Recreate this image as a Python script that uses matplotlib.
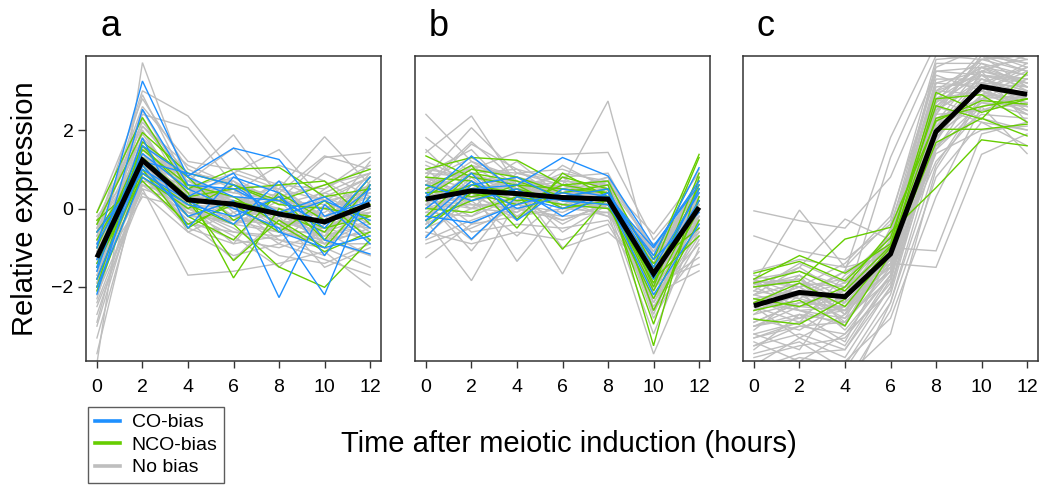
import matplotlib
matplotlib.use("Agg")
import matplotlib.pyplot as plt
from matplotlib.lines import Line2D

plt.rcParams['font.family'] = ['Liberation Sans', 'DejaVu Sans']

hours = [0, 2, 4, 6, 8, 10, 12]
panel_labels = ['a', 'b', 'c']
legend_labels = ['CO-bias', 'NCO-bias', 'No bias']
xlabel = 'Time after meiotic induction (hours)'
ylabel = 'Relative expression'

# ---------------- panel a ----------------
a_gray = [
    [-1.0, 1.4, 0.3, 0.2, -0.1, -0.4, 0.2],
    [-1.6, 1.0, 0.1, 0.0, -0.3, -0.5, 0.0],
    [-0.8, 1.7, 0.5, 0.3, 0.0, -0.2, 0.4],
    [-2.0, 0.8, -0.1, -0.2, -0.5, -0.7, -0.3],
    [-1.3, 1.2, 0.6, 0.4, 0.2, 0.0, 0.3],
    [-3.95, 3.72, 0.6, 0.2, -0.2, -0.5, -0.1],
    [-3.7, 1.1, 0.2, 0.0, -0.3, -0.6, -0.2],
    [-3.0, 0.9, 0.0, -0.4, -0.6, -0.9, -0.5],
    [-0.1, 2.8, 1.0, 0.5, 0.2, 0.1, 0.6],
    [-0.5, 3.0, 2.36, 0.9, 0.5, 0.2, 0.8],
    [-0.7, 2.4, 2.06, 0.6, 0.3, 0.0, 0.5],
    [-1.2, 1.3, 0.8, 1.88, 0.3, 0.6, 0.9],
    [-1.1, 1.5, 0.7, 1.54, 0.4, 1.34, 1.0],
    [-1.4, 1.1, 0.5, 0.9, 1.5, 0.2, 0.4],
    [-1.5, 0.9, 0.3, 0.6, 0.5, 1.83, 0.6],
    [-0.9, 1.6, 0.4, 0.3, 0.2, 1.3, 1.43],
    [-1.8, 0.6, -0.3, -0.8, -1.0, -0.6, -1.2],
    [-2.2, 0.5, -1.7, -1.6, -1.4, -1.1, -2.0],
    [-2.5, 0.4, -0.6, -1.2, -0.9, -1.3, -1.7],
    [-1.9, 1.0, -0.4, -0.6, -0.8, -1.0, -1.5],
    [-0.3, 2.2, 0.9, 0.7, 0.1, 0.4, 0.9],
    [-0.6, 2.6, 1.2, 1.0, 0.6, 0.5, 1.1],
    [-1.0, 2.0, 0.2, -0.3, -0.4, -0.2, -0.1],
    [-1.3, 1.8, -0.2, 0.1, -0.6, -0.8, -0.6],
    [-2.7, 0.7, -0.5, -0.9, -0.7, -0.5, -0.8],
    [-1.7, 0.3, 0.0, -0.5, -1.2, -1.4, -0.9],
    [-0.4, 1.9, 0.4, 0.8, 0.1, 0.9, 0.3],
    [-1.4, 1.3, 0.9, -0.1, 0.3, -0.3, 1.2],
    [-0.9, 2.9, 0.6, 0.0, 0.7, 0.2, -0.4],
    [-2.1, 1.6, 0.1, 0.5, -0.5, -0.9, 0.2],
    [-1.2, 0.8, -0.3, -1.3, -0.2, -1.5, -1.0],
    [-0.2, 1.2, 0.7, 0.4, 1.1, 0.7, 0.0],
    [-1.5, 2.3, 0.3, 0.1, -0.8, -1.2, 0.7],
    [-2.9, 1.4, 0.5, -0.4, -0.1, 0.3, -0.2],
    [-1.1, 0.6, 0.2, 0.3, -0.3, -0.7, 0.5],
    [-0.7, 1.0, -0.1, -0.7, -1.5, -0.4, 0.1],
    [-1.8, 2.1, 1.1, 0.6, 0.2, 0.0, -0.7],
    [-2.3, 1.5, 0.4, 0.0, 0.4, -0.2, 0.3],
    [-0.5, 1.4, -0.2, 0.2, -0.4, 0.5, 1.3],
    [-1.6, 0.9, 0.6, -0.2, 0.0, -0.8, -1.2],
    [-1.1, 1.1, 0.4, -0.2, -0.4, -0.3, -0.5],
    [-0.9, 0.9, 0.0, 0.1, 0.0, -0.6, 0.2],
    [-1.4, 1.4, 0.2, 0.5, -0.2, -0.1, 0.6],
    [-1.7, 1.2, -0.1, -0.4, 0.2, -0.9, -0.3],
    [-0.6, 1.8, 0.6, 0.2, -0.5, 0.0, 0.4],
    [-2.4, 0.6, 0.3, 0.0, 0.0, -0.4, 0.9],
    [-1.0, 1.6, 0.0, -0.6, -0.7, 0.4, 0.0],
    [-1.3, 0.7, 0.5, 0.7, -0.3, -0.7, -0.4],
    [-0.4, 2.1, 0.8, 0.1, 0.3, -0.5, 0.1],
    [-2.0, 1.3, -0.6, -0.1, -0.9, 0.1, -0.6],
    [-1.5, 0.5, 0.1, -0.9, 0.5, -0.2, 0.5],
    [-0.8, 2.5, 0.5, 0.3, -0.1, -0.9, -0.9],
    [-1.2, 1.0, 0.2, 0.0, -0.5, 0.3, 0.8],
    [-3.3, 0.8, -0.2, -0.3, -0.6, -0.8, -0.1],
    [-1.9, 1.7, 0.7, 0.1, 0.6, -0.3, -0.2],
]
a_green = [
    [-0.1, 2.32, 0.5, 1.0, 1.05, 0.3, 0.5],
    [-0.4, 1.94, 0.9, 0.6, 0.2, 0.6, 1.0],
    [-1.0, 1.6, 0.4, -1.77, 0.0, -0.5, -0.2],
    [-1.5, 1.2, 0.2, -1.33, -0.3, -1.0, 0.3],
    [-2.1, 0.9, 0.1, -0.4, -1.49, -2.01, -0.8],
    [-0.8, 1.3, 0.3, 0.5, 0.6, 0.7, -0.4],
    [-1.8, 1.0, -0.5, 0.2, -0.1, -0.6, 0.8],
    [-1.2, 1.5, 0.6, 0.3, -0.4, -1.1, -0.6],
    [-0.6, 1.1, -0.2, -0.8, 0.4, -0.3, 0.1],
    [-1.4, 0.8, 0.0, 0.6, 0.1, 0.0, -0.2],
    [-2.0, 1.7, 0.8, -0.3, 0.3, -0.8, 0.6],
    [-0.3, 0.7, -0.4, 0.1, -0.6, 0.2, -0.8],
]
a_blue = [
    [-1.0, 3.25, 0.8, 0.3, 0.2, -0.4, 0.5],
    [-1.5, 2.53, 0.6, 0.5, -0.1, 0.3, -0.5],
    [-2.18, 1.6, 0.83, 1.54, 1.25, -0.2, 0.2],
    [-1.8, 1.1, -0.2, 0.2, -2.27, 0.1, -0.9],
    [-1.2, 1.4, 0.5, 0.0, -0.5, -2.2, 0.6],
    [-0.6, 0.9, 0.2, -0.4, 0.7, -0.8, -1.16],
    [-1.6, 1.8, -0.5, 0.8, 0.4, -1.2, 0.3],
    [-0.9, 1.2, 0.9, 0.6, -0.2, 0.2, -0.3],
    [-2.0, 0.8, 0.1, -0.2, 0.3, -0.5, 0.8],
    [-1.3, 1.0, 0.3, 0.9, -0.6, -1.0, -0.7],
]
a_mean = [-1.25, 1.23, 0.22, 0.11, -0.14, -0.34, 0.11]

# ---------------- panel b ----------------
b_gray = [
    [2.40, 1.2, 0.8, 0.5, 0.4, -1.6, 0.2],
    [1.81, 0.9, 0.5, 0.3, 0.3, -1.4, -0.2],
    [1.43, 2.36, 0.6, 0.4, 0.5, -1.2, 0.3],
    [0.8, 2.06, 0.9, 0.6, 0.2, -1.8, -0.4],
    [0.5, 1.64, 1.0, 0.7, 0.6, -1.0, 0.5],
    [-1.25, -0.4, -0.2, 0.0, 0.1, -2.0, -1.25],
    [-0.3, -1.84, 0.2, 0.4, 0.3, -2.4, -0.6],
    [0.4, 0.5, -1.35, 0.1, 0.0, -1.9, -1.42],
    [0.1, 0.3, 0.2, -1.67, 0.5, -2.2, -1.59],
    [0.2, -1.08, 0.4, 0.3, 0.3, -1.5, 0.1],
    [0.6, 1.0, 1.43, 1.38, 1.43, -0.8, 0.6],
    [0.3, 0.2, 0.5, 0.6, 2.74, -1.6, 0.4],
    [0.9, 0.8, 0.7, 0.4, 0.6, -0.65, 0.9],
    [0.0, 0.1, 0.0, -0.2, -0.1, -3.71, -1.0],
    [-0.5, 0.0, 0.3, 0.2, 0.0, -3.2, -0.3],
    [1.1, 0.6, 0.4, 0.9, 0.7, -2.6, 0.2],
    [-0.8, -0.3, 0.1, 0.3, 0.4, -2.8, -0.8],
    [0.7, 1.3, 0.6, 0.1, -0.2, -1.3, 0.7],
    [0.4, -0.6, -0.4, -0.5, -0.3, -2.1, -0.2],
    [-0.2, 0.4, 0.8, 0.5, 0.8, -1.1, 0.4],
    [1.2, 0.7, 0.2, -0.3, 0.1, -1.7, 0.0],
    [0.0, 0.9, 1.0, 0.2, 0.4, -1.4, 0.8],
    [-0.6, -0.9, -0.6, -0.8, -0.4, -2.3, -0.5],
    [0.5, 0.3, -0.1, 0.8, 0.9, -1.2, 0.2],
    [0.9, 1.5, 0.3, -0.4, 0.2, -1.9, -0.1],
    [-0.1, 0.6, 0.5, 0.7, 0.0, -2.5, -0.7],
    [0.3, -0.2, 0.6, -1.0, -0.6, -1.6, 0.3],
    [0.7, 0.2, -0.7, 0.3, 0.5, -2.0, 0.5],
    [-0.4, 1.1, 0.4, 0.5, 0.2, -1.1, 1.0],
    [0.2, 0.0, 0.9, 1.0, 0.6, -1.8, -0.3],
    [1.5, 0.4, -0.3, 0.6, 0.3, -1.3, 0.1],
    [-0.9, -0.5, 0.0, -0.3, 0.1, -1.5, 0.6],
    [0.6, 1.7, 0.7, 0.0, 0.4, -2.2, -0.9],
    [0.1, -0.8, 0.3, 0.2, -0.2, -0.9, -0.4],
    [0.8, 0.5, 1.2, 0.3, 0.7, -2.7, 0.0],
    [-0.3, 0.8, -0.2, 0.6, 0.3, -1.4, 0.7],
    [0.4, 1.2, 0.5, -0.6, 0.1, -1.7, -0.6],
    [1.0, 0.1, 0.1, 0.4, 0.8, -2.0, 0.3],
    [-0.7, 0.3, 0.8, 0.0, -0.1, -1.2, -0.2],
    [0.5, -0.4, 0.2, 1.1, 0.5, -1.9, 0.4],
    [0.3, 0.6, 0.5, 0.4, 0.3, -1.6, 0.1],
    [0.5, 0.9, 0.3, 0.6, 0.4, -1.9, 0.3],
    [0.0, 0.4, 0.6, 0.2, 0.2, -1.3, -0.1],
    [0.8, 0.2, 0.4, 0.1, 0.5, -2.1, 0.5],
    [-0.2, 0.7, 0.2, 0.5, 0.1, -1.5, -0.4],
    [0.6, 1.0, 0.9, 0.7, 0.6, -1.7, 0.2],
    [0.2, 0.1, 0.0, 0.3, 0.0, -2.4, -0.2],
    [0.4, 0.5, 0.7, 0.0, 0.3, -1.1, 0.6],
    [-0.4, 0.3, 0.4, 0.6, 0.5, -1.8, 0.0],
    [1.0, 0.8, 0.5, 0.2, 0.2, -2.0, -0.5],
    [0.1, 0.9, 0.1, -0.1, 0.4, -1.4, 0.4],
    [0.7, 0.4, 0.6, 0.8, 0.1, -2.3, 0.1],
    [-0.1, -0.2, 0.3, 0.4, 0.6, -1.6, 0.8],
    [0.3, 1.1, 0.8, 0.3, 0.7, -1.0, -0.3],
    [0.5, 0.0, -0.1, 0.5, 0.2, -2.6, -1.1],
]
b_green = [
    [1.34, 0.8, 0.6, 0.5, 0.4, -1.3, 1.38],
    [1.0, 1.3, 1.23, 0.6, 0.7, -1.5, 1.3],
    [0.5, 1.1, -0.27, 0.8, 0.5, -3.5, 0.8],
    [0.2, 0.6, 0.4, -1.04, 0.3, -2.95, 0.3],
    [-0.2, 0.9, 0.7, 0.3, 0.2, -1.9, 0.6],
    [0.6, 0.3, 0.5, 0.2, 0.1, -2.3, 0.0],
    [-0.5, 0.4, 0.1, 0.6, 0.4, -1.7, 0.5],
    [0.3, 1.0, 0.8, 0.4, 0.6, -2.6, -0.3],
    [0.0, -0.1, 0.3, 0.1, 0.0, -1.4, -0.5],
    [0.8, 0.7, -0.5, 0.9, 0.3, -2.1, 0.2],
    [-0.3, 0.2, 0.6, 0.0, 0.2, -1.8, -0.7],
    [0.4, 0.5, 0.2, 0.3, 0.5, -2.0, 0.9],
]
b_blue = [
    [0.3, 1.34, 0.4, 0.2, 0.3, -1.2, 1.04],
    [-0.74, 0.5, 0.6, 1.30, 0.83, -0.95, 0.6],
    [0.4, -0.78, 0.3, 0.0, 0.4, -1.5, 0.4],
    [-0.2, -0.36, 0.1, 0.4, 0.2, -2.2, -0.4],
    [0.0, 0.9, -0.3, 0.5, 0.3, -1.0, 0.7],
    [-0.5, 0.6, 0.8, 0.2, 0.1, -1.7, 0.2],
    [0.6, 0.2, 0.5, -0.2, 0.4, -1.3, -0.1],
    [-0.3, 0.7, 0.0, 0.3, 0.5, -1.8, 0.5],
]
b_mean = [0.24, 0.45, 0.38, 0.28, 0.24, -1.66, 0.03]

# ---------------- panel c ----------------
c_gray = [
    [-0.06, -0.31, -0.5, 0.8, 3.5, 3.6, 3.0],
    [-0.70, -1.08, -1.3, -0.4, 3.0, 3.4, 3.2],
    [-1.9, -0.04, -1.5, -1.2, 2.5, 3.2, 2.8],
    [-2.2, -1.5, -0.27, -0.8, 2.8, 3.5, 3.3],
    [-2.6, -2.2, -1.6, 1.81, 4.2, 4.0, 3.6],
    [-2.0, -1.8, -2.4, 1.3, 3.9, 3.8, 3.9],
    [-4.5, -4.6, -4.3, -3.2, 1.0, 2.8, 2.5],
    [-3.0, -2.8, -2.6, -1.4, -1.50, 1.38, 1.9],
    [-2.4, -2.6, -2.8, -1.0, -1.08, 1.9, 2.2],
    [-1.8, -1.6, -2.0, -1.5, 1.5, 2.6, 1.4],
    [-3.5, -3.2, -3.6, -1.8, 2.2, 3.0, 2.6],
    [-4.2, -3.8, -4.0, -2.2, 1.8, 2.9, 3.4],
    [-2.9, -2.4, -2.2, -1.1, 2.6, 3.7, 3.1],
    [-1.7, -2.0, -1.8, -0.7, 3.3, 3.3, 2.9],
    [-3.3, -3.0, -2.9, -1.6, 1.6, 2.4, 2.3],
    [-2.1, -1.4, -1.9, -1.3, 2.0, 3.1, 3.7],
    [-4.8, -4.2, -4.5, -2.6, 0.8, 2.2, 2.0],
    [-2.5, -2.9, -1.7, -0.9, 2.4, 3.9, 3.5],
    [-3.8, -3.5, -3.3, -1.9, 2.9, 3.6, 3.2],
    [-1.9, -2.3, -2.6, -1.2, 1.9, 2.7, 2.4],
    [-2.7, -1.9, -2.7, -0.5, 3.6, 4.1, 3.8],
    [-3.2, -3.6, -2.0, -1.4, 1.2, 2.5, 2.7],
    [-2.3, -2.1, -3.1, -1.7, 2.7, 3.4, 2.6],
    [-4.0, -3.3, -3.8, -2.0, 2.1, 3.0, 3.5],
    [-1.6, -1.3, -1.5, -0.3, 3.8, 3.9, 3.1],
    [-2.8, -3.1, -2.4, -1.5, 1.4, 2.0, 2.1],
    [-3.6, -2.7, -3.4, -1.2, 2.5, 3.8, 4.0],
    [-2.2, -2.5, -2.1, -0.6, 3.1, 3.2, 2.5],
    [-4.4, -4.0, -3.9, -2.8, 0.3, 2.6, 2.9],
    [-2.0, -1.7, -2.3, -1.0, 2.3, 2.8, 3.3],
    [-3.1, -2.2, -2.8, -1.8, 1.7, 3.5, 2.2],
    [-2.4, -2.0, -1.4, -0.2, 3.4, 3.0, 3.6],
    [-3.4, -3.9, -3.2, -2.1, 2.0, 3.3, 3.0],
    [-1.8, -2.6, -2.5, -1.3, 2.8, 2.3, 2.0],
    [-2.6, -1.7, -3.0, -0.8, 3.7, 3.7, 3.4],
    [-3.7, -3.4, -4.1, -2.4, 1.1, 2.9, 2.8],
    [-2.3, -2.8, -2.0, -1.1, 2.2, 3.6, 3.8],
    [-3.0, -2.5, -2.6, -1.6, 2.6, 2.2, 1.6],
    [-1.95, -1.5, -2.2, -0.9, 3.2, 3.5, 3.9],
    [-5.0, -4.5, -4.8, -2.4, 1.5, 3.2, 3.1],
    [-2.1, -2.3, -1.6, -1.0, 2.4, 2.5, 2.9],
    [-3.3, -2.9, -3.5, -1.7, 1.9, 3.1, 2.4],
    [-2.5, -3.3, -2.7, -1.4, 2.7, 4.0, 3.7],
    [-1.85, -2.0, -2.9, -1.2, 3.0, 2.9, 2.6],
    [-2.9, -2.4, -2.2, -0.7, 3.5, 3.4, 3.3],
    [-2.2, -1.9, -2.0, -1.0, 2.5, 3.3, 3.0],
    [-2.7, -2.4, -2.5, -1.3, 2.2, 3.0, 2.7],
    [-1.8, -2.2, -1.9, -0.9, 2.9, 3.6, 3.4],
    [-3.0, -2.7, -2.9, -1.5, 2.0, 2.8, 2.9],
    [-2.4, -2.0, -2.6, -1.1, 2.6, 3.5, 3.2],
    [-3.5, -3.0, -3.2, -1.7, 1.8, 3.2, 3.6],
    [-2.0, -2.5, -2.3, -0.8, 3.2, 3.1, 2.8],
    [-4.1, -3.7, -3.6, -2.0, 1.6, 2.7, 2.6],
    [-2.6, -2.2, -2.4, -1.2, 2.4, 3.9, 3.7],
    [-1.9, -1.8, -2.7, -1.4, 2.1, 3.4, 3.1],
    [-3.2, -2.9, -2.5, -1.6, 2.8, 3.0, 2.4],
    [-2.3, -2.6, -3.0, -1.0, 3.0, 3.8, 3.5],
]
c_green = [
    [-1.8, -1.2, -1.65, -0.9, 2.96, 2.45, 2.79],
    [-1.65, -1.35, -1.85, -0.75, 2.62, 2.28, 3.46],
    [-2.0, -1.85, -0.78, -0.48, 2.23, 2.75, 2.66],
    [-2.82, -2.95, -2.31, -1.0, 2.02, 2.02, 2.15],
    [-2.6, -2.34, -2.99, -1.16, 1.68, 2.3, 1.85],
    [-2.3, -2.5, -2.0, -0.6, 0.53, 1.75, 1.60],
    [-1.9, -1.6, -2.1, -0.95, 2.3, 2.6, 2.8],
    [-2.4, -1.9, -2.5, -1.1, 2.8, 2.9, 2.2],
]
c_blue = []
c_mean = [-2.48, -2.14, -2.25, -1.16, 1.96, 3.11, 2.91]

GRAY = '#BEBEBE'
GREEN = '#66CD00'
BLUE = '#1E90FF'

W, H = 1050, 494
fig = plt.figure(figsize=(W / 100, H / 100), dpi=100)

lefts = [86, 415, 743]
ax_w, top_px, bot_px = 295, 56, 361
panels = [
    (a_gray, a_green, a_blue, a_mean),
    (b_gray, b_green, b_blue, b_mean),
    (c_gray, c_green, c_blue, c_mean),
]

for i, (gray, green, blue, mean) in enumerate(panels):
    ax = fig.add_axes([lefts[i] / W, 1 - bot_px / H, ax_w / W, (bot_px - top_px) / H])
    for row in gray:
        ax.plot(hours, row, color=GRAY, lw=1.0, solid_joinstyle='miter')
    for row in green:
        ax.plot(hours, row, color=GREEN, lw=1.0, solid_joinstyle='miter')
    for row in blue:
        ax.plot(hours, row, color=BLUE, lw=1.0, solid_joinstyle='miter')
    ax.plot(hours, mean, color='black', lw=3.6, solid_joinstyle='miter', solid_capstyle='butt')
    ax.set_xlim(-0.48, 12.48)
    ax.set_ylim(-3.888, 3.888)
    ax.set_xticks(hours)
    ax.set_xticklabels([str(h) for h in hours])
    ax.tick_params(axis='x', direction='out', length=5, width=1.0, labelsize=14, pad=8, color='#333333')
    if i == 0:
        ax.set_yticks([-2, 0, 2])
        ax.set_yticklabels(['\u22122', '0', '2'])
        ax.tick_params(axis='y', direction='out', length=6, width=1.0, labelsize=14, pad=3, color='#333333')
        ax.set_ylabel(ylabel, fontsize=21, labelpad=9)
    else:
        ax.set_yticks([])
    for sp in ax.spines.values():
        sp.set_linewidth(1.1)
        sp.set_color('#333333')
    fig.text((lefts[i] + 14) / W, 1 - 36 / H, panel_labels[i], fontsize=26,
             ha='left', va='baseline')

fig.text(569 / W, 1 - 452 / H, xlabel, fontsize=21, ha='center', va='baseline')

handles = [Line2D([0], [0], color=c, lw=2.6) for c in (BLUE, GREEN, GRAY)]
leg = fig.legend(handles, legend_labels, loc='upper left',
                 bbox_to_anchor=(88 / W, 1 - 407 / H), fontsize=14,
                 frameon=True, fancybox=False, handlelength=1.3, handletextpad=0.6,
                 labelspacing=0.25, borderpad=0.35, borderaxespad=0)
leg.get_frame().set_edgecolor('#333333')
leg.get_frame().set_linewidth(1.0)

fig.savefig('out.png', dpi=100)
